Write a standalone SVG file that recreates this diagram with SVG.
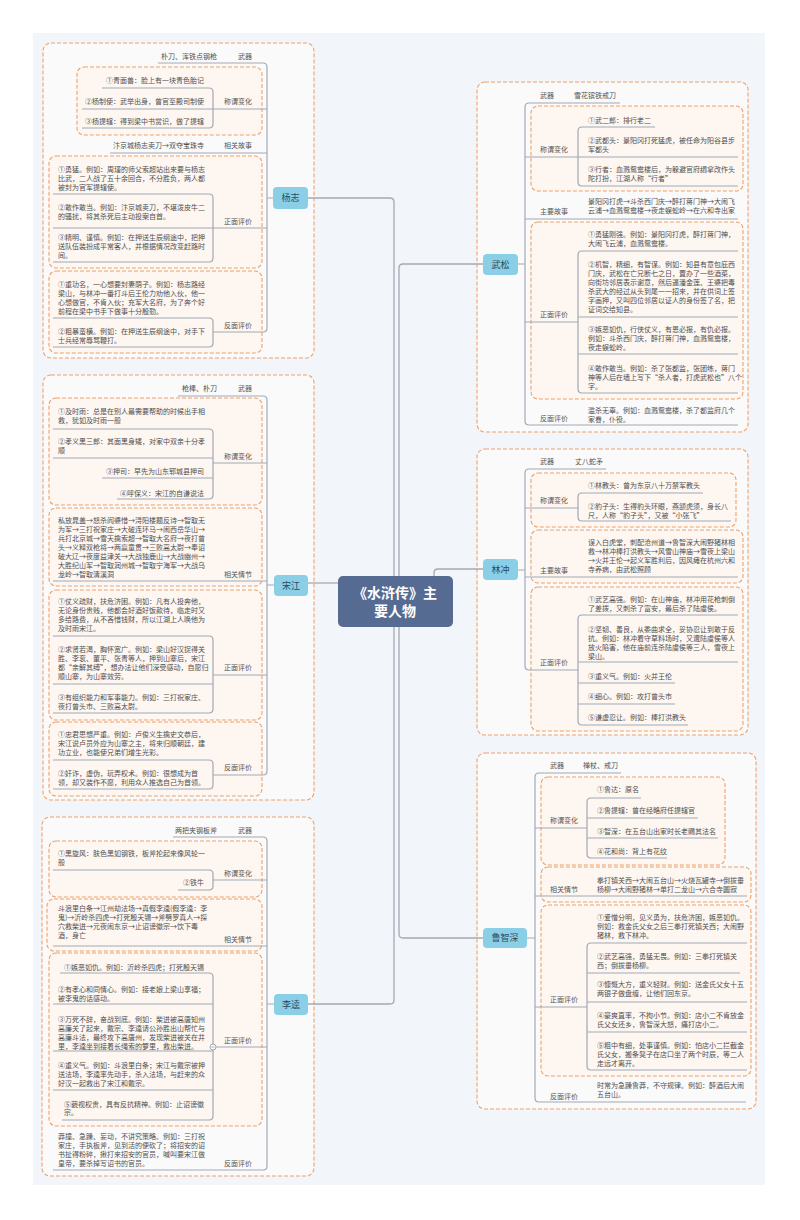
<svg xmlns="http://www.w3.org/2000/svg" width="800" height="1220" viewBox="0 0 800 1220">
<style>
text{font-family:"Noto Sans CJK SC","Noto Sans",sans-serif;}
.t{font-size:7px;fill:#4f4f4f;}
.l{font-size:7px;fill:#555;}
.e{text-anchor:end;}
.nt{font-size:9px;fill:#2c4a60;text-anchor:middle;}
.ob{fill:#fafafb;stroke:#f0a068;stroke-width:1.1;stroke-dasharray:4 2;}
.ib{fill:#fdf6f1;stroke:#f0a068;stroke-width:1.1;stroke-dasharray:4 2;}
.c{fill:none;stroke:#a2a9b5;stroke-width:1.2;}
.m{fill:none;stroke:#a2a9b5;stroke-width:1.3;}
.n{fill:#8acfe6;}
</style>
<rect width="800" height="1220" fill="#ffffff"/>
<rect x="33" y="33" width="732" height="1152" fill="#f2f6fa"/>

<g id="frames">
<rect class="ob" x="43" y="43" width="271" height="315" rx="8"/>
<rect class="ib" x="77" y="67" width="185" height="68" rx="7"/>
<rect class="ib" x="49" y="156" width="213" height="112" rx="7"/>
<rect class="ib" x="49" y="271" width="213" height="82" rx="7"/>
<rect class="ob" x="43" y="375" width="271" height="425" rx="8"/>
<rect class="ib" x="49" y="398" width="213" height="107" rx="7"/>
<rect class="ib" x="49" y="508" width="213" height="78" rx="7"/>
<rect class="ib" x="49" y="590" width="213" height="130" rx="7"/>
<rect class="ib" x="49" y="722" width="213" height="74" rx="7"/>
<rect class="ob" x="42" y="817" width="272" height="359" rx="8"/>
<rect class="ib" x="49" y="841" width="213" height="56" rx="7"/>
<rect class="ib" x="47" y="899" width="215" height="52" rx="7"/>
<rect class="ib" x="49" y="953" width="213" height="173" rx="7"/>
<rect class="ob" x="477" y="82" width="271" height="350" rx="8"/>
<rect class="ib" x="531" y="106" width="212" height="85" rx="7"/>
<rect class="ib" x="531" y="222" width="212" height="177" rx="7"/>
<rect class="ob" x="477" y="449" width="271" height="286" rx="8"/>
<rect class="ib" x="531" y="473" width="205" height="54" rx="7"/>
<rect class="ib" x="531" y="530" width="212" height="53" rx="7"/>
<rect class="ib" x="531" y="587" width="212" height="144" rx="7"/>
<rect class="ob" x="477" y="753" width="279" height="356" rx="8"/>
<rect class="ib" x="541" y="777" width="184" height="88" rx="7"/>
<rect class="ib" x="541" y="867" width="210" height="35" rx="7"/>
<rect class="ib" x="541" y="905" width="210" height="171" rx="7"/>
</g>

<g id="connectors">
<path class="m" d="M308,198 H390 Q394,198 394,202 V576"/>
<path class="m" d="M338,583 H308"/>
<path class="m" d="M394,627 V1000 Q394,1004 390,1004 H308"/>
<path class="m" d="M518,264 H403 Q399,264 399,268 V576"/>
<path class="m" d="M434,576 V573 Q434,569 438,569 H483"/>
<path class="m" d="M399,627 V934 Q399,938 403,938 H483"/>
<!-- 杨志 -->
<path class="c" d="M158,63 H263 Q267,63 267,67 V328 Q267,332 263,332 H213"/>
<path class="c" d="M213,109 H267 M110,153 H267 M213,228 H267 M267,198 H273"/>
<path class="c" d="M102,88 H209 Q213,88 213,92 V124 Q213,128 209,128 H82 M82,109 H213"/>
<path class="c" d="M53,194 H209 Q213,194 213,198 V258 Q213,262 209,262 H53 M53,228 H213"/>
<path class="c" d="M53,318 H209 Q213,318 213,322 V343 Q213,347 209,347 H53"/>
<!-- 宋江 -->
<path class="c" d="M178,396 H263 Q267,396 267,400 V771 Q267,775 263,775 H213"/>
<path class="c" d="M213,463 H267 M53,581 H267 M213,675 H267 M267,585 H274"/>
<path class="c" d="M53,429 H209 Q213,429 213,433 V495 Q213,499 209,499 H117 M53,458 H213 M102,478 H213"/>
<path class="c" d="M53,636 H209 Q213,636 213,640 V709 Q213,713 209,713 H53 M53,684 H213"/>
<path class="c" d="M53,760 H209 Q213,760 213,764 V785 Q213,789 209,789 H53"/>
<!-- 李逵 -->
<path class="c" d="M173,837 H263 Q267,837 267,841 V1166 Q267,1170 263,1170 H53"/>
<path class="c" d="M213,880 H267 M53,946 H267 M213,1047 H267 M267,1004 H274"/>
<path class="c" d="M53,870 H209 Q213,870 213,874 V886 Q213,890 209,890 H178"/>
<path class="c" d="M60,973 H209 Q213,973 213,977 V1116 Q213,1120 209,1120 H62 M53,1004 H213 M53,1051 H213 M53,1090 H213"/>
<circle cx="213" cy="1047" r="3" fill="#ffffff" stroke="#a2a9b5" stroke-width="1"/>
<path d="M211.3,1047 H214.7" stroke="#a2a9b5" stroke-width="0.9"/>
<!-- 武松 -->
<path class="c" d="M620,103 H529 Q525,103 525,107 V421 Q525,425 529,425 H738"/>
<path class="c" d="M525,157 H578 M525,219 H738 M525,322 H578 M518,264 H525"/>
<path class="c" d="M655,127 H582 Q578,127 578,131 V182 Q578,186 582,186 H738 M578,157 H738"/>
<path class="c" d="M738,251 H582 Q578,251 578,255 V389 Q578,393 582,393 H738 M578,317 H738 M578,354 H738"/>
<!-- 林冲 -->
<path class="c" d="M606,469 H529 Q525,469 525,473 V666 Q525,670 529,670 H578"/>
<path class="c" d="M525,508 H578 M525,577 H738 M518,570 H525"/>
<path class="c" d="M703,493 H582 Q578,493 578,497 V517 Q578,521 582,521 H731"/>
<path class="c" d="M738,615 H582 Q578,615 578,619 V721 Q578,725 582,725 H688 M578,662 H738 M578,683 H675 M578,704 H675"/>
<!-- 鲁智深 -->
<path class="c" d="M621,773 H539 Q535,773 535,777 V1098 Q535,1102 539,1102 H746"/>
<path class="c" d="M535,828 H587 M535,896 H747 M535,1007 H587 M527,938 H535"/>
<path class="c" d="M641,798 H591 Q587,798 587,802 V854 Q587,858 591,858 H667 M587,818 H698 M587,838 H718"/>
<path class="c" d="M747,943 H591 Q587,943 587,947 V1066 Q587,1070 591,1070 H747 M587,973 H740 M587,1002 H747 M587,1032 H747"/>
</g>

<g id="center">
<rect x="338" y="576" width="115" height="51" rx="5" fill="#566b91"/>
<text x="395" y="598" font-size="14" font-weight="bold" fill="#ffffff" text-anchor="middle">《水浒传》主</text>
<text x="395" y="616" font-size="14" font-weight="bold" fill="#ffffff" text-anchor="middle">要人物</text>
</g>

<g id="yangzhi">
<rect class="n" x="273" y="187" width="35" height="22" rx="4"/>
<text class="nt" x="290.5" y="201.2">杨志</text>
<text class="l e" x="252" y="58.5">武器</text>
<text class="t e" x="217" y="58.5">朴刀、浑铁点钢枪</text>
<text class="l e" x="252" y="103.5">称谓变化</text>
<text class="t e" x="204" y="82.5">①青面兽：脸上有一块青色胎记</text>
<text class="t e" x="204" y="103.5">②杨制使：武举出身，曾官至殿司制使</text>
<text class="t e" x="204" y="123.5">③杨提辖：得到梁中书赏识，做了提辖</text>
<text class="l e" x="252" y="147.5">相关故事</text>
<text class="t e" x="204" y="147.5">汴京城杨志卖刀→双夺宝珠寺</text>
<text class="l e" x="252" y="223.5">正面评价</text>
<text class="t"><tspan x="58" y="171.5">①勇猛。例如：周瑾的师父索超站出来要与杨志</tspan><tspan x="58" y="180.5">比武，二人战了五十余回合，不分胜负，两人都</tspan><tspan x="58" y="189.5">被封为官军提辖使。</tspan></text>
<text class="t"><tspan x="58" y="209.5">②敢作敢当。例如：汴京城卖刀，不堪泼皮牛二</tspan><tspan x="58" y="218.5">的骚扰，将其杀死后主动投案自首。</tspan></text>
<text class="t"><tspan x="58" y="239.5">③精明、谨慎。例如：在押送生辰纲途中，把押</tspan><tspan x="58" y="248.5">送队伍装扮成平常客人，并根据情况改变赶路时</tspan><tspan x="58" y="257.5">间。</tspan></text>
<text class="l e" x="252" y="327.5">反面评价</text>
<text class="t"><tspan x="58" y="286.5">①重功名，一心想要封妻荫子。例如：杨志路经</tspan><tspan x="58" y="295.5">梁山，与林冲一番打斗后王伦力劝他入伙，他一</tspan><tspan x="58" y="304.5">心想做官，不肯入伙；充军大名府，为了奔个好</tspan><tspan x="58" y="313.5">前程在梁中书手下做事十分殷勤。</tspan></text>
<text class="t"><tspan x="58" y="333.5">②粗暴蛮横。例如：在押送生辰纲途中，对手下</tspan><tspan x="58" y="342.5">士兵经常辱骂鞭打。</tspan></text>
</g>

<g id="songjiang">
<rect class="n" x="274" y="575" width="34" height="21" rx="4"/>
<text class="nt" x="291" y="588.7">宋江</text>
<text class="l e" x="252" y="390.5">武器</text>
<text class="t e" x="217" y="390.5">枪棒、朴刀</text>
<text class="l e" x="252" y="458.5">称谓变化</text>
<text class="t"><tspan x="58" y="413.5">①及时雨：总是在别人最需要帮助的时候出手相</tspan><tspan x="58" y="422.5">救，犹如及时雨一般</tspan></text>
<text class="t"><tspan x="58" y="443.5">②孝义黑三郎：其面黑身矮，对家中双亲十分孝</tspan><tspan x="58" y="452.5">顺</tspan></text>
<text class="t e" x="204" y="473.5">③押司：早先为山东郓城县押司</text>
<text class="t e" x="204" y="495.5">④呼保义：宋江的自谦说法</text>
<text class="l e" x="252" y="576.5">相关情节</text>
<text class="t"><tspan x="58" y="522.5">私放晁盖→怒杀阎婆惜→浔阳楼题反诗→智取无</tspan><tspan x="58" y="531.5">为军→三打祝家庄→大破连环马→闹西岳华山→</tspan><tspan x="58" y="540.5">兵打北京城→雪天擒索超→智取大名府→夜打曾</tspan><tspan x="58" y="549.5">头→义释双枪将→两赢童贯→三败高太尉→奉诏</tspan><tspan x="58" y="558.5">破大辽→夜度益津关→大战独鹿山→大战幽州→</tspan><tspan x="58" y="567.5">大胜纪山军→智取润州城→智取宁海军→大战乌</tspan><tspan x="58" y="576.5">龙岭→智取清溪洞</tspan></text>
<text class="l e" x="252" y="669.5">正面评价</text>
<text class="t"><tspan x="58" y="603.5">①仗义疏财，扶危济困。例如：凡有人投奔他，</tspan><tspan x="58" y="612.5">无论身份贵贱，他都会好酒好饭款待，临走时又</tspan><tspan x="58" y="621.5">多给路费，从不吝惜钱财，所以江湖上人唤他为</tspan><tspan x="58" y="630.5">及时雨宋江。</tspan></text>
<text class="t"><tspan x="58" y="651.5">②求贤若渴，胸怀宽广。例如：梁山好汉捉得关</tspan><tspan x="58" y="660.5">胜、李衮、董平、张青等人，押到山寨后，宋江</tspan><tspan x="58" y="669.5">都“亲解其缚”，想办法让他们深受感动，自愿归</tspan><tspan x="58" y="678.5">顺山寨，为山寨效劳。</tspan></text>
<text class="t"><tspan x="58" y="699.5">③有组织能力和军事能力。例如：三打祝家庄、</tspan><tspan x="58" y="708.5">夜打曾头市、三败高太尉。</tspan></text>
<text class="l e" x="252" y="769.5">反面评价</text>
<text class="t"><tspan x="58" y="736.5">①忠君思想严重。例如：卢俊义生擒史文恭后，</tspan><tspan x="58" y="745.5">宋江说卢员外应为山寨之主，将来归顺朝廷，建</tspan><tspan x="58" y="754.5">功立业，也能使兄弟们增生光彩。</tspan></text>
<text class="t"><tspan x="58" y="775.5">②奸诈，虚伪，玩弄权术。例如：很想成为首</tspan><tspan x="58" y="784.5">领，却又装作不愿，利用众人推选自己为首领。</tspan></text>
</g>

<g id="likui">
<rect class="n" x="274" y="994" width="34" height="21" rx="4"/>
<text class="nt" x="291" y="1007.7">李逵</text>
<text class="l e" x="252" y="832.5">武器</text>
<text class="t e" x="217" y="832.5">两把夹钢板斧</text>
<text class="l e" x="252" y="875.5">称谓变化</text>
<text class="t"><tspan x="58" y="855.5">①黑旋风：肤色黑如钢铁，板斧抡起来像风轮一</tspan><tspan x="58" y="864.5">般</tspan></text>
<text class="t e" x="204" y="884.5">②铁牛</text>
<text class="l e" x="252" y="941.5">相关情节</text>
<text class="t"><tspan x="58" y="910.5">斗浪里白条→江州劫法场→真假李逵(假李逵：李</tspan><tspan x="58" y="919.5">鬼)→沂岭杀四虎→打死殷天锡→斧劈罗真人→探</tspan><tspan x="58" y="928.5">穴救柴进→元夜闹东京→止诏谤徽宗→饮下毒</tspan><tspan x="58" y="937.5">酒，身亡</tspan></text>
<text class="l e" x="252" y="1042.5">正面评价</text>
<text class="t e" x="204" y="969.5">①嫉恶如仇。例如：沂岭杀四虎；打死殷天锡</text>
<text class="t"><tspan x="58" y="991.5">②有孝心和同情心。例如：接老娘上梁山享福；</tspan><tspan x="58" y="1000.5">被李鬼的话感动。</tspan></text>
<text class="t"><tspan x="58" y="1021.5">③万死不辞，奋战到底。例如：柴进被高唐知州</tspan><tspan x="58" y="1030.5">高廉关了起来，戴宗、李逵请公孙胜出山帮忙与</tspan><tspan x="58" y="1039.5">高廉斗法，最终攻下高唐州，发现柴进被关在井</tspan><tspan x="58" y="1048.5">里，李逵坐到接着长绳索的箩里，救出柴进。</tspan></text>
<text class="t"><tspan x="58" y="1067.5">④重义气。例如：斗浪里白条；宋江与戴宗被押</tspan><tspan x="58" y="1076.5">送法场，李逵率先动手，杀入法场，与赶来的众</tspan><tspan x="58" y="1085.5">好汉一起救出了宋江和戴宗。</tspan></text>
<text class="t"><tspan x="64" y="1106.5">⑤藐视权贵，具有反抗精神。例如：止诏谤徽</tspan><tspan x="64" y="1115">宗。</tspan></text>
<text class="l e" x="252" y="1165.5">反面评价</text>
<text class="t"><tspan x="58" y="1138.5">莽撞、急躁、妄动，不讲究策略。例如：三打祝</tspan><tspan x="58" y="1147.5">家庄，手执板斧，见到活的便砍了；将招安的诏</tspan><tspan x="58" y="1156.5">书扯得粉碎，揪打来招安的官员，喊叫要宋江做</tspan><tspan x="58" y="1165.5">皇帝，要杀掉写诏书的官员。</tspan></text>
</g>

<g id="wusong">
<rect class="n" x="483" y="254" width="35" height="21" rx="4"/>
<text class="nt" x="500.5" y="267.7">武松</text>
<text class="l" x="540" y="97.5">武器</text>
<text class="t" x="574" y="97.5">雪花镔铁戒刀</text>
<text class="l" x="540" y="151.5">称谓变化</text>
<text class="t" x="588" y="122.5">①武二郎：排行老二</text>
<text class="t"><tspan x="588" y="142.5">②武都头：景阳冈打死猛虎，被任命为阳谷县步</tspan><tspan x="588" y="151.5">军都头</tspan></text>
<text class="t"><tspan x="588" y="171.5">③行者：血溅鸳鸯楼后，为躲避官府缉拿改作头</tspan><tspan x="588" y="180.5">陀打扮，江湖人称“行者”</tspan></text>
<text class="l" x="540" y="213.5">主要故事</text>
<text class="t"><tspan x="588" y="203.5">景阳冈打虎→斗杀西门庆→醉打蒋门神→大闹飞</tspan><tspan x="588" y="213">云浦→血溅鸳鸯楼→夜走蜈蚣岭→在六和寺出家</tspan></text>
<text class="l" x="540" y="316.5">正面评价</text>
<text class="t"><tspan x="588" y="236.5">①勇猛刚强。例如：景阳冈打虎，醉打蒋门神，</tspan><tspan x="588" y="245.5">大闹飞云浦，血溅鸳鸯楼。</tspan></text>
<text class="t"><tspan x="588" y="267">②机智，精细，有智谋。例如：知县有意包庇西</tspan><tspan x="588" y="276">门庆，武松在亡兄断七之日，置办了一些酒菜，</tspan><tspan x="588" y="285">向街坊邻居表示谢意，然后逼潘金莲、王婆把毒</tspan><tspan x="588" y="294">杀武大的经过从头到尾一一招来，并在供词上签</tspan><tspan x="588" y="303">字画押，又叫四位邻居以证人的身份签了名，把</tspan><tspan x="588" y="312">证词交给知县。</tspan></text>
<text class="t"><tspan x="588" y="331.5">③嫉恶如仇，行侠仗义，有恩必报，有仇必报。</tspan><tspan x="588" y="340.5">例如：斗杀西门庆，醉打蒋门神，血溅鸳鸯楼，</tspan><tspan x="588" y="349.5">夜走蜈蚣岭。</tspan></text>
<text class="t"><tspan x="588" y="370.5">④敢作敢当。例如：杀了张都监，张团练，蒋门</tspan><tspan x="588" y="379.5">神等人后在墙上写下“杀人者，打虎武松也”八个</tspan><tspan x="588" y="388.5">字。</tspan></text>
<text class="l" x="540" y="420.5">反面评价</text>
<text class="t"><tspan x="588" y="412.5">滥杀无辜。例如：血溅鸳鸯楼，杀了都监府几个</tspan><tspan x="588" y="421.5">家眷，仆役。</tspan></text>
</g>

<g id="linchong">
<rect class="n" x="483" y="559" width="35" height="21" rx="4"/>
<text class="nt" x="500.5" y="572.7">林冲</text>
<text class="l" x="540" y="463.5">武器</text>
<text class="t" x="575" y="463.5">丈八蛇矛</text>
<text class="l" x="540" y="502.5">称谓变化</text>
<text class="t" x="588" y="487.5">①林教头：曾为东京八十万禁军教头</text>
<text class="t"><tspan x="588" y="508.5">②豹子头：生得豹头环眼，燕颔虎须，身长八</tspan><tspan x="588" y="517.5">尺，人称“豹子头”，又被“小张飞”</tspan></text>
<text class="l" x="540" y="572.5">主要故事</text>
<text class="t"><tspan x="588" y="544.5">误入白虎堂，刺配沧州道→鲁智深大闹野猪林相</tspan><tspan x="588" y="553.5">救→林冲棒打洪教头→风雪山神庙→雪夜上梁山</tspan><tspan x="588" y="562.5">→火并王伦→起义军胜利后，因风瘫在杭州六和</tspan><tspan x="588" y="571.5">寺养病，由武松照顾</tspan></text>
<text class="l" x="540" y="664.5">正面评价</text>
<text class="t"><tspan x="588" y="601.5">①武艺高强。例如：在山神庙，林冲用花枪刺倒</tspan><tspan x="588" y="610.5">了差拨，又刺杀了富安，最后杀了陆虞侯。</tspan></text>
<text class="t"><tspan x="588" y="631.5">②坚韧、善良，从委曲求全，妥协忍让到敢于反</tspan><tspan x="588" y="640.5">抗。例如：林冲看守草料场时，又遭陆虞侯等人</tspan><tspan x="588" y="649.5">放火陷害，他在庙前连杀陆虞侯等三人，雪夜上</tspan><tspan x="588" y="658.5">梁山。</tspan></text>
<text class="t" x="588" y="678.5">③重义气。例如：火并王伦</text>
<text class="t" x="588" y="698.5">④细心。例如：攻打曾头市</text>
<text class="t" x="588" y="719.5">⑤谦虚忍让。例如：棒打洪教头</text>
</g>

<g id="luzhishen">
<rect class="n" x="483" y="928" width="44" height="20" rx="4"/>
<text class="nt" x="505" y="941.2">鲁智深</text>
<text class="l" x="550" y="767.5">武器</text>
<text class="t" x="583" y="767.5">禅杖、戒刀</text>
<text class="l" x="550" y="822.5">称谓变化</text>
<text class="t" x="597" y="791.5">①鲁达：原名</text>
<text class="t" x="597" y="812.5">②鲁提辖：曾在经略府任提辖官</text>
<text class="t" x="597" y="833.5">③智深：在五台山出家时长老赐其法名</text>
<text class="t" x="597" y="853.5">④花和尚：背上有花纹</text>
<text class="l" x="550" y="891.5">相关情节</text>
<text class="t"><tspan x="597" y="882.5">拳打镇关西→大闹五台山→火烧瓦罐寺→倒拔垂</tspan><tspan x="597" y="891.5">杨柳→大闹野猪林→单打二龙山→六合寺圆寂</tspan></text>
<text class="l" x="550" y="1001.5">正面评价</text>
<text class="t"><tspan x="597" y="919.5">①爱憎分明，见义勇为，扶危济困，嫉恶如仇。</tspan><tspan x="597" y="928.5">例如：救金氏父女之后三拳打死镇关西；大闹野</tspan><tspan x="597" y="937.5">猪林，救下林冲。</tspan></text>
<text class="t"><tspan x="597" y="959">②武艺高强，勇猛无畏。例如：三拳打死镇关</tspan><tspan x="597" y="968">西；倒拔垂杨柳。</tspan></text>
<text class="t"><tspan x="597" y="986.5">③慷慨大方，重义轻财。例如：送金氏父女十五</tspan><tspan x="597" y="995.5">两银子做盘缠，让他们回东京。</tspan></text>
<text class="t"><tspan x="597" y="1018">④豪爽直率，不拘小节。例如：店小二不肯放金</tspan><tspan x="597" y="1027">氏父女还乡，鲁智深大怒，痛打店小二。</tspan></text>
<text class="t"><tspan x="597" y="1047.5">⑤粗中有细，处事谨慎。例如：怕店小二拦截金</tspan><tspan x="597" y="1056.5">氏父女，搬条凳子在店口坐了两个时辰，等二人</tspan><tspan x="597" y="1065.5">走远才离开。</tspan></text>
<text class="l" x="550" y="1098.5">反面评价</text>
<text class="t"><tspan x="597" y="1087.5">时常为急躁鲁莽，不守规律。例如：醉酒后大闹</tspan><tspan x="597" y="1097">五台山。</tspan></text>
</g>
</svg>
